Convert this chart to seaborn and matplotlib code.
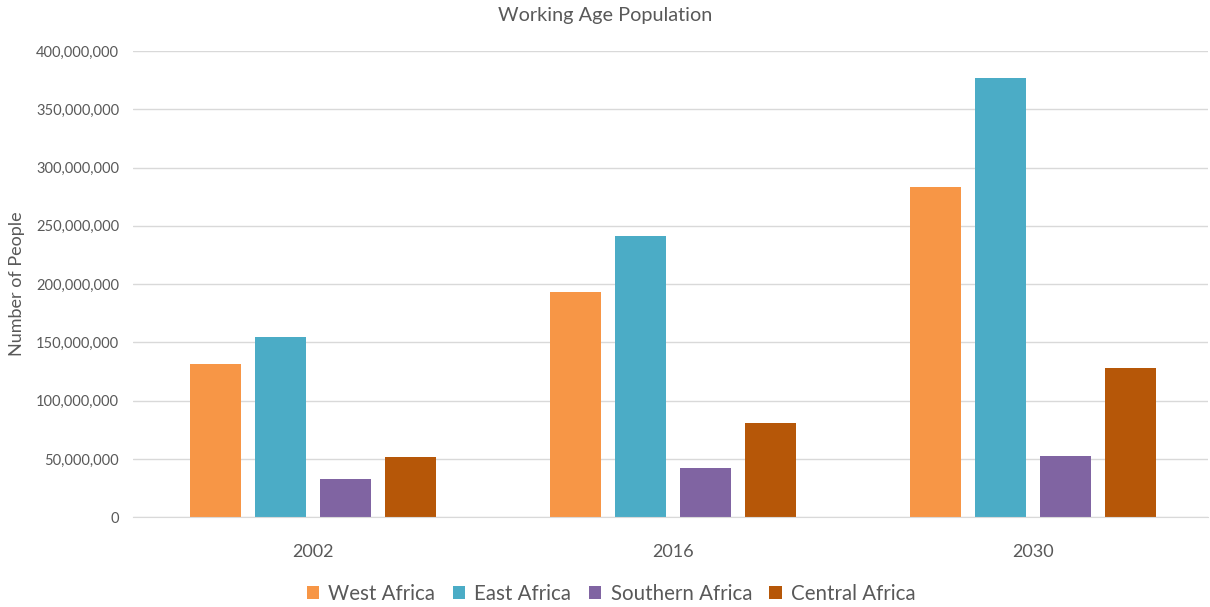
import matplotlib.pyplot as plt
import pandas as pd
import seaborn as sns
from matplotlib.ticker import FuncFormatter

years = ["2002", "2016", "2030"]
regions = ["West Africa", "East Africa", "Southern Africa", "Central Africa"]
west = [131e6, 193e6, 283e6]
east = [155e6, 241e6, 377e6]
southern = [32.5e6, 42e6, 52.5e6]
central = [51.5e6, 80.5e6, 128e6]
colors = ["#F79646", "#4BACC6", "#8064A2", "#B65708"]

rows = []
for region, vals in zip(regions, [west, east, southern, central]):
    for year, v in zip(years, vals):
        rows.append({"Year": year, "Region": region, "People": v})
df = pd.DataFrame(rows)

sns.set_style("white")
plt.rcParams["font.family"] = ["Lato", "DejaVu Sans"]
text_color = "#595959"

fig = plt.figure(figsize=(12.1, 6.07), dpi=100)
ax = fig.add_axes([0.110, 0.148, 0.888, 0.768])
sns.barplot(
    data=df,
    x="Year",
    y="People",
    hue="Region",
    order=years,
    hue_order=regions,
    palette=colors,
    saturation=1,
    width=0.72,
    gap=0.215,
    edgecolor="none",
    ax=ax,
)
ax.set_ylim(0, 400e6)
ax.set_xlim(-0.5, 2.485)
ax.set_yticks(range(0, 400_000_001, 50_000_000))
ax.yaxis.set_major_formatter(FuncFormatter(lambda v, p: f"{int(v):,}"))
ax.grid(axis="y", color="#D9D9D9", linewidth=1)
ax.set_axisbelow(True)
for s in ["top", "right", "left"]:
    ax.spines[s].set_visible(False)
ax.spines["bottom"].set_color("#D9D9D9")
ax.tick_params(axis="y", length=0, labelsize=10.5, labelcolor=text_color, pad=10)
ax.tick_params(axis="x", length=0, labelsize=13, labelcolor=text_color, pad=19)
ax.set_xlabel("")
ax.set_ylabel("Number of People", fontsize=13, color=text_color, labelpad=8)
fig.text(0.5, 0.974, "Working Age Population", ha="center", va="center",
         fontsize=14.3, color=text_color)

sns.move_legend(ax, "center", bbox_to_anchor=(0.445, -0.165), ncol=4,
                frameon=False, fontsize=14.8, labelcolor=text_color,
                handlelength=0.6, handleheight=0.6, handletextpad=0.45,
                columnspacing=0.85, title=None)

plt.savefig("out.png", dpi=100)
